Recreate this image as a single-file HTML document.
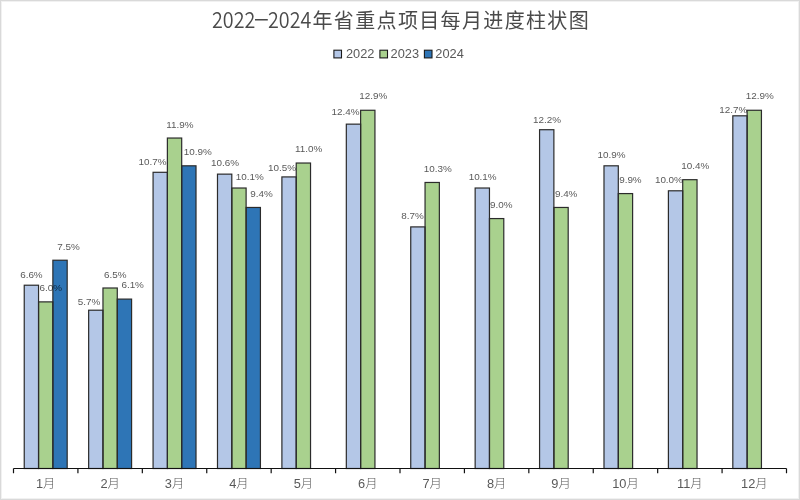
<!DOCTYPE html>
<html><head><meta charset="utf-8"><style>
html,body{margin:0;padding:0;background:#fff}
#c{position:relative;will-change:transform;width:800px;height:500px;box-sizing:border-box;border:1px solid #d9d9d9;box-shadow:inset 0 0 0 1px #f1f1f1;overflow:hidden;background:#fff}
.t{position:absolute;white-space:nowrap;color:#4a4a4a;font-family:"Noto Sans CJK SC",sans-serif;line-height:30px;height:30px;transform-origin:0 50%}
.td{font-weight:350;font-size:22.2px;transform:scaleX(0.89)}
.tz{font-weight:400;font-size:20px;letter-spacing:1.35px}
svg{position:absolute;left:-1px;top:-1px}
.lab{font-family:"Liberation Sans",sans-serif;font-size:9.9px;fill:rgba(0,0,0,0.68)}
.cat{font-family:"Liberation Sans","Noto Sans CJK SC",sans-serif;font-size:12.8px;fill:#595959}
.yue{font-family:"Noto Sans CJK SC",sans-serif;font-weight:300;font-size:12.3px}
.leg{font-family:"Liberation Sans",sans-serif;font-size:12.8px;fill:#595959}
</style></head><body>
<div id="c">
<span class="t td" style="left:211.1px;top:2px">2022</span><span class="t" style="left:252.8px;top:2.3px;font-weight:400;font-size:22.2px;transform:scaleX(1.2)">−</span><span class="t td" style="left:266.6px;top:2px">2024</span><span class="t tz" style="left:311.5px;top:3.8px">年省重点项目每月进度柱状图</span>
<svg width="800" height="500" viewBox="0 0 800 500">
<g><rect x="24.24" y="285.22" width="14.31" height="183.28" fill="#B4C7E7"/><rect x="38.55" y="301.88" width="14.31" height="166.62" fill="#A9D18E"/><rect x="52.87" y="260.23" width="14.31" height="208.28" fill="#2E75B6"/><rect x="88.65" y="310.21" width="14.31" height="158.29" fill="#B4C7E7"/><rect x="102.97" y="288.00" width="14.31" height="180.50" fill="#A9D18E"/><rect x="117.28" y="299.10" width="14.31" height="169.40" fill="#2E75B6"/><rect x="153.07" y="172.30" width="14.31" height="296.20" fill="#B4C7E7"/><rect x="167.38" y="138.04" width="14.31" height="330.46" fill="#A9D18E"/><rect x="181.70" y="165.81" width="14.31" height="302.69" fill="#2E75B6"/><rect x="217.49" y="174.14" width="14.31" height="294.36" fill="#B4C7E7"/><rect x="231.80" y="188.02" width="14.31" height="280.48" fill="#A9D18E"/><rect x="246.12" y="207.46" width="14.31" height="261.04" fill="#2E75B6"/><rect x="281.90" y="176.92" width="14.31" height="291.58" fill="#B4C7E7"/><rect x="296.22" y="163.03" width="14.31" height="305.47" fill="#A9D18E"/><rect x="346.32" y="124.15" width="14.31" height="344.35" fill="#B4C7E7"/><rect x="360.63" y="110.27" width="14.31" height="358.23" fill="#A9D18E"/><rect x="410.74" y="226.90" width="14.31" height="241.60" fill="#B4C7E7"/><rect x="425.05" y="182.47" width="14.31" height="286.03" fill="#A9D18E"/><rect x="475.15" y="188.02" width="14.31" height="280.48" fill="#B4C7E7"/><rect x="489.47" y="218.57" width="14.31" height="249.93" fill="#A9D18E"/><rect x="539.57" y="129.71" width="14.31" height="338.79" fill="#B4C7E7"/><rect x="553.88" y="207.46" width="14.31" height="261.04" fill="#A9D18E"/><rect x="603.99" y="165.81" width="14.31" height="302.69" fill="#B4C7E7"/><rect x="618.30" y="193.58" width="14.31" height="274.92" fill="#A9D18E"/><rect x="668.40" y="190.80" width="14.31" height="277.70" fill="#B4C7E7"/><rect x="682.72" y="179.69" width="14.31" height="288.81" fill="#A9D18E"/><rect x="732.82" y="115.82" width="14.31" height="352.68" fill="#B4C7E7"/><rect x="747.13" y="110.27" width="14.31" height="358.23" fill="#A9D18E"/></g>
<g><rect x="24.24" y="285.22" width="14.31" height="183.28" fill="none" stroke="#2b2b2b" stroke-width="1.2"/><rect x="38.55" y="301.88" width="14.31" height="166.62" fill="none" stroke="#2b2b2b" stroke-width="1.2"/><rect x="52.87" y="260.23" width="14.31" height="208.28" fill="none" stroke="#2b2b2b" stroke-width="1.2"/><rect x="88.65" y="310.21" width="14.31" height="158.29" fill="none" stroke="#2b2b2b" stroke-width="1.2"/><rect x="102.97" y="288.00" width="14.31" height="180.50" fill="none" stroke="#2b2b2b" stroke-width="1.2"/><rect x="117.28" y="299.10" width="14.31" height="169.40" fill="none" stroke="#2b2b2b" stroke-width="1.2"/><rect x="153.07" y="172.30" width="14.31" height="296.20" fill="none" stroke="#2b2b2b" stroke-width="1.2"/><rect x="167.38" y="138.04" width="14.31" height="330.46" fill="none" stroke="#2b2b2b" stroke-width="1.2"/><rect x="181.70" y="165.81" width="14.31" height="302.69" fill="none" stroke="#2b2b2b" stroke-width="1.2"/><rect x="217.49" y="174.14" width="14.31" height="294.36" fill="none" stroke="#2b2b2b" stroke-width="1.2"/><rect x="231.80" y="188.02" width="14.31" height="280.48" fill="none" stroke="#2b2b2b" stroke-width="1.2"/><rect x="246.12" y="207.46" width="14.31" height="261.04" fill="none" stroke="#2b2b2b" stroke-width="1.2"/><rect x="281.90" y="176.92" width="14.31" height="291.58" fill="none" stroke="#2b2b2b" stroke-width="1.2"/><rect x="296.22" y="163.03" width="14.31" height="305.47" fill="none" stroke="#2b2b2b" stroke-width="1.2"/><rect x="346.32" y="124.15" width="14.31" height="344.35" fill="none" stroke="#2b2b2b" stroke-width="1.2"/><rect x="360.63" y="110.27" width="14.31" height="358.23" fill="none" stroke="#2b2b2b" stroke-width="1.2"/><rect x="410.74" y="226.90" width="14.31" height="241.60" fill="none" stroke="#2b2b2b" stroke-width="1.2"/><rect x="425.05" y="182.47" width="14.31" height="286.03" fill="none" stroke="#2b2b2b" stroke-width="1.2"/><rect x="475.15" y="188.02" width="14.31" height="280.48" fill="none" stroke="#2b2b2b" stroke-width="1.2"/><rect x="489.47" y="218.57" width="14.31" height="249.93" fill="none" stroke="#2b2b2b" stroke-width="1.2"/><rect x="539.57" y="129.71" width="14.31" height="338.79" fill="none" stroke="#2b2b2b" stroke-width="1.2"/><rect x="553.88" y="207.46" width="14.31" height="261.04" fill="none" stroke="#2b2b2b" stroke-width="1.2"/><rect x="603.99" y="165.81" width="14.31" height="302.69" fill="none" stroke="#2b2b2b" stroke-width="1.2"/><rect x="618.30" y="193.58" width="14.31" height="274.92" fill="none" stroke="#2b2b2b" stroke-width="1.2"/><rect x="668.40" y="190.80" width="14.31" height="277.70" fill="none" stroke="#2b2b2b" stroke-width="1.2"/><rect x="682.72" y="179.69" width="14.31" height="288.81" fill="none" stroke="#2b2b2b" stroke-width="1.2"/><rect x="732.82" y="115.82" width="14.31" height="352.68" fill="none" stroke="#2b2b2b" stroke-width="1.2"/><rect x="747.13" y="110.27" width="14.31" height="358.23" fill="none" stroke="#2b2b2b" stroke-width="1.2"/></g>
<path d="M13.5 468.5H786.50 M13.50 468.5V473.2 M77.92 468.5V473.2 M142.33 468.5V473.2 M206.75 468.5V473.2 M271.17 468.5V473.2 M335.58 468.5V473.2 M400.00 468.5V473.2 M464.42 468.5V473.2 M528.83 468.5V473.2 M593.25 468.5V473.2 M657.67 468.5V473.2 M722.08 468.5V473.2 M786.50 468.5V473.2" stroke="#111" stroke-width="1.2" fill="none"/>
<g class="lab" text-anchor="middle"><text x="31.40" y="277.75">6.6%</text><text x="50.75" y="291.45">6.0%</text><text x="68.50" y="249.85">7.5%</text><text x="89.00" y="305.15">5.7%</text><text x="115.35" y="277.65">6.5%</text><text x="132.65" y="288.45">6.1%</text><text x="152.50" y="165.45">10.7%</text><text x="179.85" y="127.65">11.9%</text><text x="197.75" y="154.65">10.9%</text><text x="225.00" y="165.65">10.6%</text><text x="249.75" y="180.45">10.1%</text><text x="261.50" y="196.65">9.4%</text><text x="282.10" y="171.45">10.5%</text><text x="308.75" y="152.45">11.0%</text><text x="345.50" y="114.85">12.4%</text><text x="373.25" y="99.15">12.9%</text><text x="412.60" y="218.85">8.7%</text><text x="437.75" y="172.05">10.3%</text><text x="482.65" y="180.45">10.1%</text><text x="501.35" y="208.15">9.0%</text><text x="547.10" y="122.65">12.2%</text><text x="566.15" y="196.85">9.4%</text><text x="611.50" y="158.45">10.9%</text><text x="630.40" y="182.65">9.9%</text><text x="668.90" y="183.35">10.0%</text><text x="695.25" y="169.45">10.4%</text><text x="733.35" y="112.65">12.7%</text><text x="759.75" y="99.15">12.9%</text></g>
<g class="cat" text-anchor="middle"><text x="45.71" y="488">1<tspan class="yue">月</tspan></text><text x="110.12" y="488">2<tspan class="yue">月</tspan></text><text x="174.54" y="488">3<tspan class="yue">月</tspan></text><text x="238.96" y="488">4<tspan class="yue">月</tspan></text><text x="303.38" y="488">5<tspan class="yue">月</tspan></text><text x="367.79" y="488">6<tspan class="yue">月</tspan></text><text x="432.21" y="488">7<tspan class="yue">月</tspan></text><text x="496.63" y="488">8<tspan class="yue">月</tspan></text><text x="561.04" y="488">9<tspan class="yue">月</tspan></text><text x="625.46" y="488">10<tspan class="yue">月</tspan></text><text x="689.88" y="488">11<tspan class="yue">月</tspan></text><text x="754.29" y="488">12<tspan class="yue">月</tspan></text></g>
<g>
<rect x="333.9" y="50.2" width="7.6" height="7.7" fill="#B4C7E7" stroke="#1a1a1a" stroke-width="1.1"/>
<rect x="379.9" y="50.2" width="7.6" height="7.7" fill="#A9D18E" stroke="#1a1a1a" stroke-width="1.1"/>
<rect x="424.4" y="50.2" width="7.6" height="7.7" fill="#2E75B6" stroke="#1a1a1a" stroke-width="1.1"/>
<g class="leg"><text x="346" y="58.1">2022</text><text x="390.6" y="58.1">2023</text><text x="435.3" y="58.1">2024</text></g>
</g>
</svg>
</div>
</body></html>
